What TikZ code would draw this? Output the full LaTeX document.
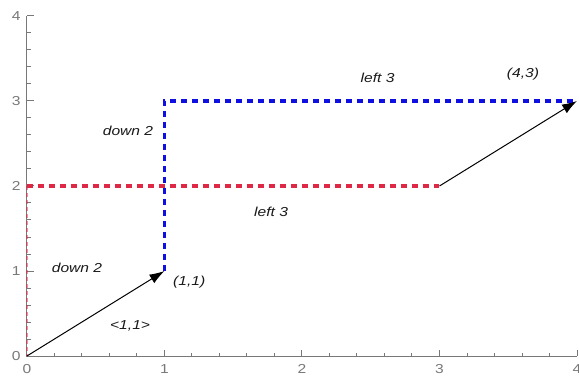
\documentclass[tikz,border=0pt]{standalone}
\usepackage{fontspec}
\setmainfont{Liberation Sans}
\newfontfamily\lblfont[FakeStretch=1.2]{Liberation Sans}
\usetikzlibrary{arrows.meta}
\definecolor{axisgray}{RGB}{120,120,120}
\definecolor{myblue}{RGB}{15,15,225}
\definecolor{myred}{RGB}{222,40,70}
\begin{document}
\begin{tikzpicture}[x=137.5pt,y=85pt,
  lbl/.style={font=\lblfont\itshape\fontsize{13}{15}\selectfont, text=black!90, inner sep=0pt},
  ticklbl/.style={font=\lblfont\fontsize{13}{15}\selectfont, text=axisgray, inner sep=0pt},
  vec/.style={black, line width=1pt, -{Latex[length=15pt,width=10pt]}},
  bluepath/.style={myblue, line width=3.2pt, dash pattern=on 6pt off 5pt},
  redpath/.style={myred, line width=3.2pt, dash pattern=on 6pt off 5pt},
  redfaint/.style={myred, line width=1.5pt, opacity=0.5, dash pattern=on 4pt off 3pt},
  axisline/.style={axisgray, line width=1pt}]
\useasboundingbox (-0.196,-0.235) rectangle (4.0145,4.188);
% points
\coordinate (O) at (0,0);
\coordinate (A) at (1,1);
\coordinate (B) at (1,3);
\coordinate (C) at (4,3);
\coordinate (D) at (0,2);
\coordinate (E) at (3,2);
\coordinate (Ytop) at (0,4);
\coordinate (Xend) at (4,0);
% axes
\draw[axisline] (Ytop) -- (O) -- (Xend);
\foreach \k in {1,...,19} {
  \draw[axisline] (0,\k/5) -- ++(4pt,0);
  \draw[axisline] (\k/5,0) -- ++(0,3.5pt);
}
\foreach \k in {0,...,4} {
  \draw[axisline] (0,\k) -- ++(7pt,0);
  \draw[axisline] (\k,0) -- ++(0,6pt);
  \node[ticklbl, anchor=east] (yl\k) at (-0.045,\k) {\k};
  \node[ticklbl, anchor=north] (xl\k) at (\k,-0.1) {\k};
}
% paths
\draw[redfaint] (D) -- (O);
\draw[redpath] (D) -- (E);
\draw[bluepath] (A) -- (B) -- (C);
\draw[vec] (O) -- (A);
\draw[vec] (E) -- (C);
% labels
\node[lbl] (t1) at (2.55,3.27) {left 3};
\node[lbl] (t2) at (3.607,3.31) {(4,3)};
\node[lbl] (t3) at (0.735,2.65) {down 2};
\node[lbl] (t4) at (1.775,1.70) {left 3};
\node[lbl] (t5) at (0.364,1.04) {down 2};
\node[lbl] (t6) at (1.18,0.87) {(1,1)};
\node[lbl] (t7) at (0.75,0.35) {<1,1>};
\end{tikzpicture}
\end{document}
